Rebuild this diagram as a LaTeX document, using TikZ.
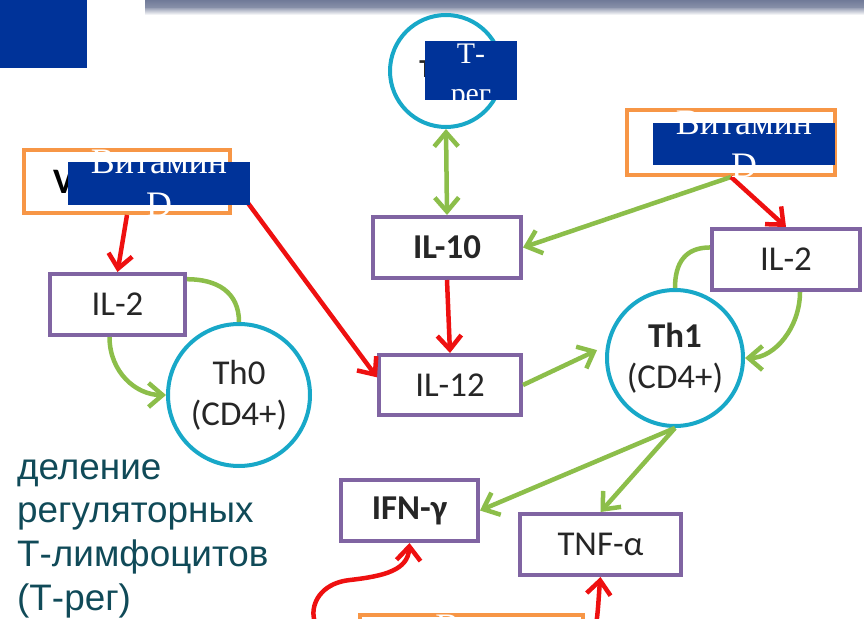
\documentclass[tikz,border=0pt]{standalone}
\usepackage{fontspec}
\usetikzlibrary{arrows.meta}
\newfontfamily\carlito{Carlito}
\newfontfamily\coverserif{Liberation Serif}
\newfontfamily\notesans{Liberation Sans}
\definecolor{vitorange}{RGB}{247,150,70}
\definecolor{ilpurple}{RGB}{128,100,162}
\definecolor{cellcyan}{RGB}{24,168,200}
\definecolor{linkgreen}{RGB}{140,190,74}
\definecolor{linkred}{RGB}{238,16,16}
\definecolor{coverblue}{RGB}{0,51,153}
\definecolor{notetext}{RGB}{16,74,88}
\definecolor{barblue}{RGB}{112,122,152}
\begin{document}
\begin{tikzpicture}[x=1bp, y=-1bp, every node/.style={inner sep=0pt},
    vitbox/.style={draw=vitorange, line width=4bp, fill=white, minimum height=63bp, font=\carlito\bfseries\fontsize{36}{40}\selectfont},
    ilbox/.style={draw=ilpurple, line width=4bp, fill=white, minimum height=61bp, text=black!85, font=\carlito\fontsize{35}{40}\selectfont},
    cell/.style={circle, draw=cellcyan, line width=4bp, fill=white, align=center, text=black!85, font=\carlito\fontsize{35}{41}\selectfont},
    cover/.style={fill=coverblue, minimum height=43bp},
    covertext/.style={text=white, align=center, font=\coverserif\fontsize{36}{43}\selectfont},
    grnline/.style={draw=linkgreen, line width=4.5bp},
    grn/.style={grnline, -{Straight Barb[length=14bp,width=24bp]}},
    grnboth/.style={grnline, {Straight Barb[length=14bp,width=24bp]}-{Straight Barb[length=14bp,width=24bp]}},
    rdarr/.style={draw=linkred, line width=4.5bp, -{Straight Barb[length=14bp,width=24bp]}}]
    \useasboundingbox (0,0) rectangle (864,619);
    \clip (0,0) rectangle (864,619);
    % slide decoration
    \shade[top color=barblue, bottom color=barblue!80] (145,0) rectangle (864,9);
    \shade[top color=barblue!60, bottom color=white] (145,9) rectangle (864,15);
    \node[cover, minimum width=87bp, minimum height=68bp, anchor=north west] (corner) at (0,0) {};
    % boxes and cells
    \node[vitbox, minimum width=206bp] (vitl) at (127,181.5) {Vitamin D};
    \node[vitbox, minimum width=208bp, minimum height=65bp] (vitr) at (731,142.5) {Vitamin D};
    \node[vitbox, minimum width=223bp] (vitb) at (471.5,646) {Vitamin D};
    \node[ilbox, minimum width=135bp] (il2l) at (117.5,304.5) {IL-2};
    \node[ilbox, minimum width=148bp] (il10) at (447,247.5) {\textbf{IL-10}};
    \node[ilbox, minimum width=142bp, minimum height=60bp] (il12) at (450,385) {IL-12};
    \node[ilbox, minimum width=148bp] (il2r) at (786,259.5) {IL-2};
    \node[ilbox, minimum width=137bp] (ifn) at (409.5,510.5) {\textbf{IFN-γ}};
    \node[ilbox, minimum width=161bp] (tnf) at (600.5,544.5) {TNF-α};
    \node[cell, minimum size=112bp, font=\carlito\bfseries\fontsize{26}{30}\selectfont] (treg) at (446,71) {T-reg};
    \node[cell, minimum size=142bp] (th0) at (239,395) {Th0\\(CD4+)};
    \node[cell, minimum size=136bp] (th1) at (675,358) {\textbf{Th1}\\(CD4+)};
    \node[anchor=north west, align=left, text=notetext, font=\notesans\fontsize{37}{44}\selectfont] (note) at (17,459) {деление\\регуляторных\\Т-лимфоцитов\\(Т-рег)};
    % links
    \draw[rdarr] (vitl.south) -- (il2l.north);
    \draw[rdarr] (vitl.east) -- (il12.174);
    \draw[rdarr] (il10.south) -- (il12.north);
    \draw[grnboth] (treg.south) -- (il10.north);
    \draw[grn] (vitr.south) -- (il10.east);
    \draw[rdarr] (vitr.south) -- (il2r.north);
    \draw[grnline] (il2r.171) .. controls +(-25,0) and +(0,-25) .. (th1.north);
    \draw[grn] ([xshift=14bp]il2r.south) .. controls +(0,35) and +(30,0) .. (th1.east);
    \draw[grnline] (il2l.20) .. controls +(30,0) and +(0,-30) .. (th0.north);
    \draw[grn] ([xshift=-8bp]il2l.south) .. controls +(0,35) and +(-30,0) .. (th0.west);
    \draw[grn, shorten >=10bp] (il12.east) -- (th1.170);
    \draw[grn] (th1.south) -- (ifn.east);
    \draw[grn] (th1.south) -- (tnf.north);
    \draw[rdarr] (vitb.west) .. controls (300,646) and (300,585) .. (350,580) .. controls (385,576) and (408,570) .. (ifn.south);
    \draw[rdarr] (vitb.east) .. controls (598,646) and (598,600) .. (tnf.south);
    % covering labels
    \node[cover, minimum width=182bp] (covl) at (159,183.5) {};
    \node[covertext] (covltxt) at (covl.center) {Витамин\\D};
    \node[cover, minimum width=92bp, minimum height=59bp] (covt) at (471,70.5) {};
    \node[covertext, font=\coverserif\fontsize{30}{40}\selectfont] (covttxt) at ([yshift=-6bp]covt.center) {Т-\\рег};
    \node[cover, minimum width=182bp, minimum height=42bp] (covr) at (744,144) {};
    \node[covertext] (covrtxt) at (covr.center) {Витамин\\D};
    \node[cover, minimum width=199bp] (covb) at (503.5,648.5) {};
    \node[covertext] (covbtxt) at (covb.center) {Витамин\\D};
\end{tikzpicture}
\end{document}
